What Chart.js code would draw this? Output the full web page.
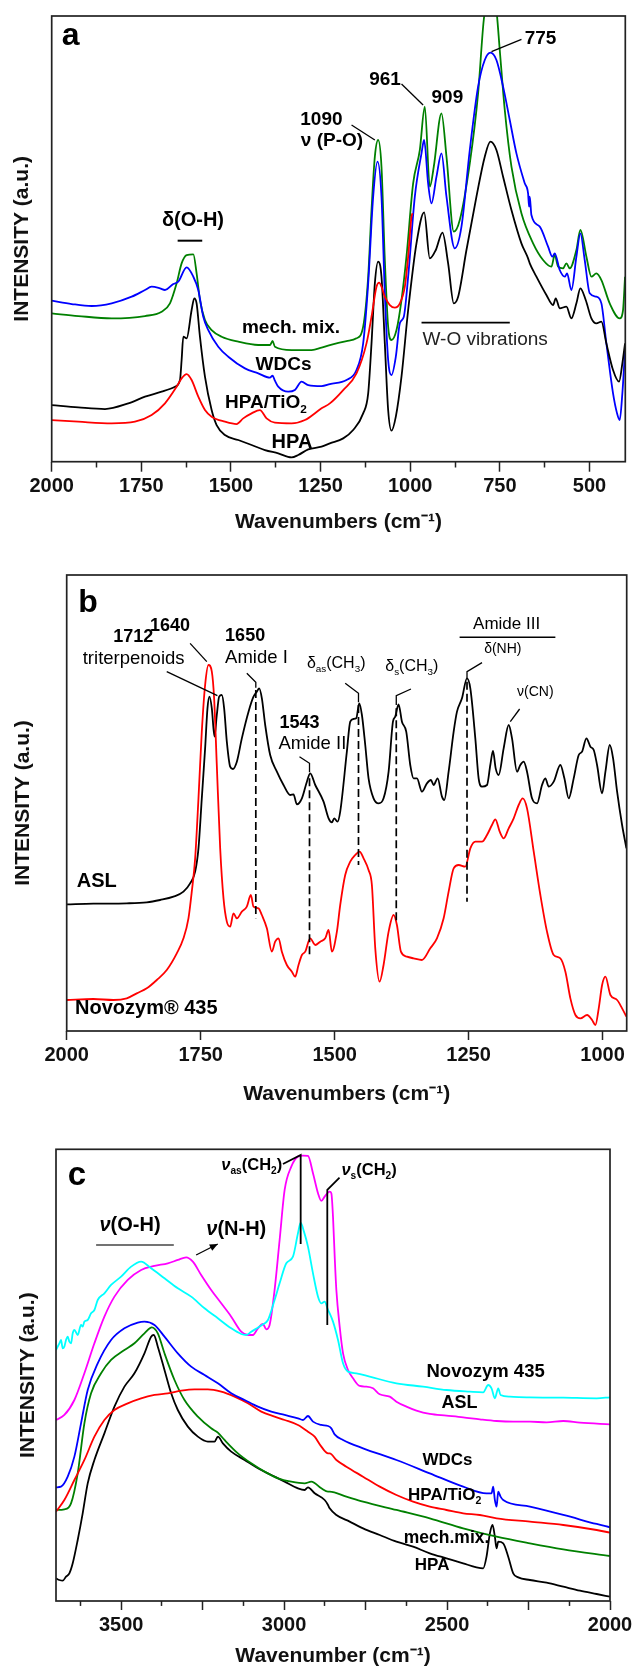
<!DOCTYPE html>
<html><head><meta charset="utf-8">
<script src="https://cdn.jsdelivr.net/npm/chart.js@4.4.1/dist/chart.umd.min.js"></script>
<style>
html,body{margin:0;padding:0;background:#fff;}
#wrap{position:relative;width:635px;height:1667px;overflow:hidden;}
canvas{position:absolute;left:0;}
</style></head><body>
<div id="wrap">
<canvas id="ca" width="635" height="535" style="top:0px;width:635px;height:535px"></canvas>
<canvas id="cb" width="635" height="572" style="top:535px;width:635px;height:572px"></canvas>
<canvas id="cc" width="635" height="560" style="top:1107px;width:635px;height:560px"></canvas>
</div>
<script>
// ---------- Panel a : [wavenumber, intensity (a.u.)] ----------
const A_HPA = [[2000,170],[1925.7,163],[1851.3,158],[1786.3,175],[1739.8,195],[1693.3,210],[1656.2,225],[1642.2,245],[1637.6,305],[1632.9,375],[1623.6,370],[1609.7,455],[1602.3,490],[1595.8,475],[1586.5,375],[1572.5,255],[1553.9,155],[1540,110],[1516.8,80],[1479.6,65],[1442.4,50],[1405.2,35],[1368.1,25],[1330.9,13],[1312.3,20],[1284.4,37],[1247.3,45],[1224.1,55],[1186.9,70],[1159.1,95],[1131.2,145],[1117.2,205],[1107.9,355],[1098.6,535],[1089.4,600],[1080.1,555],[1070.8,355],[1061.5,155],[1052.2,93],[1040.1,135],[1024.3,255],[1005.7,455],[982.5,655],[961.1,748],[945.3,610],[928.6,635],[910,687],[894.2,595],[878.4,475],[866.3,495],[843.1,635],[815.2,795],[792,915],[776.2,960],[759.5,935],[740.9,855],[717.6,755],[689.8,655],[671.2,610],[666.5,595],[647.9,555],[620.1,500],[601.5,470],[594,490],[582.9,460],[564.3,465],[550.4,430],[536.4,475],[525.3,520],[510.4,485],[494.6,430],[480.7,415],[466.7,420],[452.8,355],[434.2,275],[417.5,240],[408.2,295],[400.7,355]];
const A_MECH = [[2000,445],[1925.7,437],[1832.7,430],[1739.8,437],[1693.3,450],[1670.1,475],[1651.5,535],[1637.6,595],[1623.6,620],[1605,622],[1595.8,565],[1586.5,485],[1572.5,425],[1553.9,395],[1526.1,375],[1479.6,360],[1423.8,350],[1391.3,350],[1383.9,362],[1377.4,345],[1330.9,335],[1275.1,335],[1247.3,342],[1224.1,350],[1177.6,362],[1149.8,370],[1131.2,405],[1117.2,555],[1107.9,755],[1098.6,915],[1089.4,965],[1080.1,885],[1070.8,605],[1061.5,405],[1052.2,365],[1038.2,395],[1024.3,485],[1010.4,615],[991.8,835],[973.2,935],[959.3,1065],[945.3,825],[934.2,885],[912.8,1045],[898.8,915],[878.4,690],[861.7,725],[833.8,895],[810.6,1105],[794.8,1325],[776.2,1435],[759.5,1355],[750.2,1235],[736.2,1055],[717.6,885],[689.8,745],[657.2,655],[629.4,605],[606.1,585],[596.8,620],[587.5,585],[573.6,580],[564.3,595],[555,580],[536.4,635],[525.3,695],[508.5,615],[494.6,555],[480.7,565],[466.7,545],[443.5,475],[415.6,430],[406.3,455],[400.7,555]];
const A_WDC = [[2000,483],[1944.2,473],[1888.5,467],[1832.7,475],[1776.9,495],[1739.8,515],[1721.2,525],[1698,520],[1684,515],[1660.8,533],[1646.9,540],[1623.6,583],[1605,555],[1591.1,515],[1577.2,435],[1563.2,395],[1535.4,345],[1507.5,315],[1461,280],[1423.8,265],[1391.3,252],[1383.9,258],[1377.4,243],[1368.1,225],[1340.2,210],[1321.6,215],[1303,240],[1284.4,230],[1247.3,227],[1224.1,233],[1177.6,245],[1149.8,275],[1131.2,355],[1117.2,535],[1103.3,795],[1091.2,900],[1080.1,795],[1070.8,505],[1061.5,305],[1052.2,260],[1040.1,315],[1028.9,415],[1017.8,435],[1005.7,555],[987.1,795],[968.5,925],[961.1,965],[950,835],[940.7,775],[926.7,855],[912.8,925],[898.8,795],[875.6,640],[857,705],[833.8,935],[810.6,1125],[792,1205],[776.2,1227],[759.5,1205],[740.9,1125],[722.3,1025],[703.7,925],[680.5,835],[671.2,805],[668.4,765],[666.5,795],[661.9,740],[638.6,705],[615.4,645],[603.3,615],[596.8,625],[582.9,575],[568.9,555],[562.4,565],[550.4,515],[536.4,615],[525.3,685],[513.2,605],[499.2,505],[480.7,495],[466.7,475],[452.8,355],[434.2,205],[423,145],[415.6,125],[408.2,205],[400.7,335]];
const A_TIO2 = [[2000,125],[1925.7,120],[1832.7,115],[1767.7,120],[1721.2,140],[1684,175],[1651.5,225],[1637.6,250],[1623.6,263],[1609.7,245],[1591.1,195],[1572.5,155],[1553.9,135],[1516.8,120],[1484.3,113],[1465.7,130],[1442.4,145],[1419.2,155],[1400.6,130],[1377.4,117],[1330.9,115],[1293.7,125],[1247.3,160],[1224.1,175],[1186.9,215],[1149.8,265],[1121.9,355],[1107.9,435],[1094,525],[1086.6,537],[1080.1,525],[1070.8,495],[1056.8,470],[1042.9,462],[1028.9,475],[1015,525],[1005.7,615],[996.4,735],[993.6,745]];
const A_TICKS = [500,625,750,875,1000,1125,1250,1375,1500,1625,1750,1875,2000];
const A_LABELS = [500,750,1000,1250,1500,1750,2000];

// ---------- Panel b ----------
const B_ASL = [[2000,380],[1950.2,382],[1887.9,383],[1850.6,386],[1825.7,393],[1800.8,403],[1782.1,418],[1769.7,443],[1760.3,478],[1754.1,548],[1747.9,698],[1741.7,848],[1737.3,968],[1733.6,1003],[1729.2,968],[1724.2,883],[1719.9,948],[1715.5,1003],[1710.5,1008],[1706.2,968],[1701.2,868],[1695,793],[1690,786],[1682.5,808],[1673.2,878],[1660.7,958],[1651.4,1003],[1645.2,1018],[1640.8,1028],[1635.8,998],[1629.6,918],[1620.3,828],[1607.8,778],[1595.4,738],[1582.9,708],[1576.7,710],[1570.5,680],[1561.1,698],[1551.8,748],[1545.6,773],[1536.2,738],[1520.7,688],[1511.3,638],[1505.1,626],[1500.8,638],[1494.6,628],[1489.6,658],[1477.2,838],[1470.9,928],[1464.7,936],[1459.7,938],[1454.1,983],[1449.1,948],[1442.9,858],[1436.7,758],[1427.4,698],[1418,683],[1408.7,698],[1399.3,778],[1391.2,928],[1386.9,943],[1380.7,980],[1374.4,928],[1366.4,898],[1358.9,798],[1352.7,758],[1346.4,758],[1337.1,718],[1327.8,743],[1320.3,753],[1315.3,738],[1307.8,758],[1299.7,703],[1295.4,693],[1287.3,778],[1277.9,898],[1271.7,958],[1262.4,998],[1253.1,1058],[1246.8,1028],[1237.5,878],[1231.3,758],[1225,733],[1215.7,738],[1209.5,798],[1204.5,840],[1199.5,788],[1193.9,768],[1184.6,848],[1175.2,918],[1169,878],[1159.7,778],[1153.5,798],[1147.2,808],[1141,778],[1131.7,698],[1122.3,683],[1113,738],[1106.8,758],[1100.5,733],[1091.2,748],[1078.8,798],[1071.3,758],[1063.2,698],[1053.9,758],[1044.5,828],[1038.3,838],[1030.2,878],[1022.7,853],[1016.5,843],[1010.3,798],[1000.9,713],[994.7,778],[986.6,858],[980.4,818],[972.9,718],[963.6,618],[955.5,548]];
const B_NOVOZYM = [[2000,93],[1950.2,96],[1912.9,93],[1887.9,98],[1869.3,113],[1850.6,128],[1831.9,153],[1813.3,183],[1794.6,233],[1782.1,278],[1772.8,338],[1766.6,418],[1760.3,518],[1754.1,698],[1747.9,898],[1741.7,1038],[1735.4,1098],[1729.2,1078],[1724.9,998],[1719.9,798],[1713.6,548],[1707.4,398],[1701.2,328],[1695,313],[1688.8,353],[1682.5,338],[1673.2,358],[1663.9,373],[1656.4,408],[1651.4,373],[1642.1,368],[1635.8,348],[1626.5,308],[1617.2,238],[1611,268],[1604.7,278],[1598.5,238],[1589.2,198],[1579.8,178],[1573.6,163],[1567.4,198],[1561.1,228],[1554.9,238],[1545.6,278],[1536.2,258],[1526.9,268],[1517.6,278],[1511.3,303],[1505.1,238],[1495.8,298],[1489.6,378],[1480.3,468],[1470.9,508],[1461.6,528],[1453.5,538],[1446,518],[1436.7,483],[1430.5,438],[1424.2,248],[1416.1,148],[1408.7,198],[1399.3,298],[1390,348],[1383.8,318],[1376.3,238],[1365.1,223],[1352.7,218],[1337.1,213],[1321.5,248],[1309.1,278],[1296.6,338],[1287.3,418],[1277.9,488],[1268.6,498],[1256.2,493],[1246.8,548],[1237.5,568],[1225,568],[1215.7,588],[1206.4,618],[1200.1,635],[1192,598],[1184.6,578],[1175.2,608],[1165.9,638],[1156.6,678],[1149.1,698],[1141,668],[1128.5,538],[1116.1,408],[1103.7,298],[1091.2,228],[1078.8,218],[1069.4,178],[1060.1,98],[1050.7,48],[1041.4,38],[1028.9,48],[1019.6,33],[1013.4,18],[1007.2,68],[1000.9,138],[994.7,163],[985.4,108],[972.9,93],[963.6,68],[955.5,43]];
const B_TICKS = [1000,1250,1500,1750,2000];
const B_LABELS = [1000,1250,1500,1750,2000];

// ---------- Panel c ----------
const C_NOVOZYM = [[3700,753],[3689.7,773],[3684.6,783],[3679.5,758],[3674.4,763],[3669.2,783],[3664.1,793],[3659,778],[3653.9,773],[3648.7,803],[3643.6,813],[3633.4,798],[3623.2,828],[3618.1,823],[3612.9,838],[3602.7,843],[3592.4,863],[3582.2,873],[3572,903],[3551.5,923],[3531,948],[3500.3,973],[3469.5,1003],[3438.8,1018],[3408.1,998],[3367.1,968],[3326.2,938],[3285.2,913],[3244.2,878],[3203.3,848],[3162.3,818],[3131.6,801],[3116.2,798],[3100.9,808],[3080.4,820],[3065,830],[3049.7,843],[3029.2,903],[3013.8,953],[2993.3,1013],[2972.9,1033],[2957.5,1103],[2949.3,1135],[2939.1,1108],[2926.8,1063],[2911.4,983],[2896,913],[2885.8,893],[2875.6,898],[2865.3,873],[2860.2,863],[2850,838],[2834.6,783],[2819.2,713],[2803.9,688],[2778.3,683],[2737.3,673],[2655.4,653],[2573.5,643],[2501.8,633],[2430.1,628],[2389.1,626],[2373.7,648],[2363.5,638],[2353.3,608],[2343,638],[2335.9,618],[2307.2,613],[2245.7,611],[2143.3,610],[2040.9,608],[2000,611]];
const C_ASL = [[3700,543],[3674.4,558],[3643.6,603],[3612.9,683],[3582.2,773],[3551.5,853],[3520.7,913],[3479.8,963],[3438.8,993],[3397.8,1005],[3356.9,1013],[3326.2,1023],[3300.6,1031],[3280.1,1018],[3254.5,978],[3223.8,933],[3193,893],[3162.3,853],[3131.6,808],[3111.1,798],[3095.7,798],[3080.4,818],[3065,831],[3054.8,815],[3044.5,828],[3029.2,933],[3013.8,1083],[2998.4,1233],[2978,1303],[2957.5,1333],[2942.1,1336],[2926.8,1335],[2911.4,1283],[2896,1223],[2885.8,1200],[2875.6,1213],[2860.2,1228],[2855.1,1223],[2850,1153],[2844.8,1033],[2839.7,933],[2829.5,823],[2819.2,743],[2803.9,693],[2788.5,668],[2768,645],[2747.5,643],[2727.1,638],[2706.6,620],[2675.9,613],[2655.4,598],[2624.7,583],[2593.9,571],[2553,561],[2501.8,556],[2450.6,551],[2399.4,545],[2348.1,540],[2297,538],[2245.7,538],[2194.5,536],[2143.3,540],[2092.1,535],[2000,530]];
const C_WDC = [[3700,341],[3684.6,343],[3664.1,373],[3643.6,433],[3623.2,533],[3602.7,633],[3572,713],[3531,783],[3490,818],[3449.1,835],[3428.6,838],[3397.8,828],[3367.1,793],[3326.2,743],[3285.2,703],[3244.2,678],[3203.3,653],[3162.3,623],[3121.3,603],[3080.4,583],[3039.4,568],[2998.4,558],[2957.5,548],[2942.1,543],[2926.8,555],[2911.4,538],[2885.8,528],[2865.3,525],[2855.1,518],[2845,500],[2819.2,483],[2757.8,458],[2655.4,423],[2553,383],[2450.6,343],[2378.9,323],[2363.5,323],[2358.4,343],[2353.3,303],[2348.1,283],[2343,328],[2335.9,313],[2327.7,303],[2245.7,283],[2143.3,258],[2040.9,231],[2000,221]];
const C_TIO2 = [[3700,268],[3674.4,303],[3643.6,363],[3612.9,423],[3582.2,493],[3551.5,543],[3520.7,573],[3479.8,593],[3438.8,608],[3397.8,618],[3356.9,623],[3315.9,631],[3275,635],[3234,635],[3193,628],[3152.1,613],[3111.1,593],[3070.1,568],[3029.2,553],[2998.4,543],[2957.5,528],[2926.8,508],[2906.3,493],[2885.8,463],[2865.3,443],[2860.2,443],[2839.7,423],[2809,403],[2757.8,373],[2706.6,343],[2655.4,318],[2604.2,298],[2553,283],[2501.8,273],[2450.6,263],[2399.4,258],[2348.1,248],[2245.7,238],[2143.3,228],[2040.9,213],[2000,205]];
const C_MECH = [[3700,273],[3674.4,275],[3653.9,293],[3633.4,383],[3612.9,533],[3592.4,623],[3561.7,683],[3531,723],[3490,753],[3459.3,773],[3428.6,803],[3406,821],[3387.6,803],[3367.1,743],[3336.4,663],[3305.7,603],[3264.7,553],[3223.8,518],[3203.3,505],[3182.8,483],[3141.8,443],[3100.9,413],[3059.9,388],[3018.9,368],[2978,358],[2937,353],[2916.5,358],[2885.8,338],[2865.3,328],[2860.2,328],[2809,313],[2757.8,298],[2655.4,273],[2553,248],[2450.6,218],[2348.1,193],[2245.7,173],[2143.3,155],[2000,135]];
const C_HPA = [[3700,68],[3689.7,63],[3679.5,61],[3669.2,73],[3659,83],[3648.7,113],[3633.4,183],[3618.1,263],[3602.7,353],[3582.2,423],[3551.5,503],[3520.7,583],[3490,643],[3459.3,683],[3428.6,743],[3408.1,793],[3399.9,798],[3387.6,763],[3367.1,693],[3346.6,623],[3326.2,573],[3295.4,523],[3264.7,493],[3234,478],[3213.5,478],[3203.3,493],[3187.9,473],[3162.3,448],[3121.3,423],[3080.4,398],[3039.4,378],[2998.4,358],[2957.5,338],[2937,333],[2926.8,341],[2906.3,323],[2875.6,303],[2865.3,288],[2860.2,278],[2839.7,258],[2798.8,238],[2757.8,218],[2706.6,198],[2655.4,178],[2604.2,163],[2553,143],[2501.8,128],[2450.6,113],[2409.6,101],[2389.1,98],[2378.9,133],[2368.6,203],[2360.4,228],[2353.3,193],[2348.1,158],[2343,178],[2327.7,173],[2312.3,133],[2297,83],[2281.6,71],[2245.7,63],[2194.5,55],[2143.3,43],[2092.1,31],[2040.9,21],[2000,13]];
const C_TICKS = [2000,2125,2250,2375,2500,2625,2750,2875,3000,3125,3250,3375,3500,3625];
const C_LABELS = [2000,2500,3000,3500];

// ---------- drawing ----------
const FONT = '"Liberation Sans", Arial, Helvetica, sans-serif';
Chart.defaults.font.family = FONT;
const COL = {black:'#000000', green:'#008000', blue:'#0000ff', red:'#ff0000', cyan:'#00ffff', magenta:'#ff00ff'};

function ds(label, pts, color) {
  return {label, data: pts.map(p => ({x: p[0], y: p[1]})), borderColor: color, backgroundColor: color,
    borderWidth: 1.8, pointRadius: 0, fill: false, cubicInterpolationMode: 'monotone'};
}

function drawRich(ctx, n, px, py) {
  const size = n.size, weight = n.bold ? 'bold ' : '';
  const fontFor = s => {
    const k = s[1] || '';
    const sz = (k === 'sub' || k === 'sup') ? size * 0.62 : size;
    const it = k === 'it' ? 'italic ' : '';
    return it + weight + sz.toFixed(1) + 'px ' + FONT;
  };
  const widths = []; let total = 0;
  for (const s of n.segs) { ctx.font = fontFor(s); const w = ctx.measureText(s[0]).width; widths.push(w); total += w; }
  let cx = n.align === 'center' ? px - total / 2 : px;
  ctx.fillStyle = n.color || '#000'; ctx.textBaseline = 'alphabetic'; ctx.textAlign = 'left';
  n.segs.forEach((s, i) => {
    ctx.font = fontFor(s);
    const k = s[1] || '';
    const dy = k === 'sub' ? size * 0.24 : (k === 'sup' ? -size * 0.42 : 0);
    ctx.fillText(s[0], cx, py + dy);
    cx += widths[i];
  });
}

function annotPlugin(notes, lines) {
  return {
    id: 'annot',
    afterDraw(chart) {
      const {ctx, chartArea: ca, scales: {x, y}} = chart;
      const P = p => [x.getPixelForValue(p[0]), y.getPixelForValue(p[1])];
      ctx.save();
      ctx.strokeStyle = '#222'; ctx.lineWidth = 1.7; ctx.setLineDash([]);
      ctx.strokeRect(ca.left, ca.top, ca.right - ca.left, ca.bottom - ca.top);
      for (const ln of lines) {
        ctx.beginPath(); ctx.setLineDash(ln.dash || []); ctx.lineWidth = ln.w || 1.2;
        ctx.strokeStyle = ln.c || '#000';
        ln.pts.forEach((p, i) => { const q = P(p); i ? ctx.lineTo(q[0], q[1]) : ctx.moveTo(q[0], q[1]); });
        ctx.stroke();
        if (ln.arrow) {
          const a = P(ln.pts[ln.pts.length - 2]), b = P(ln.pts[ln.pts.length - 1]);
          const ang = Math.atan2(b[1] - a[1], b[0] - a[0]), L = 8, W = 3.5;
          ctx.setLineDash([]); ctx.beginPath(); ctx.moveTo(b[0], b[1]);
          ctx.lineTo(b[0] - L * Math.cos(ang) + W * Math.sin(ang), b[1] - L * Math.sin(ang) - W * Math.cos(ang));
          ctx.lineTo(b[0] - L * Math.cos(ang) - W * Math.sin(ang), b[1] - L * Math.sin(ang) + W * Math.cos(ang));
          ctx.closePath(); ctx.fillStyle = ln.c || '#000'; ctx.fill();
        }
      }
      ctx.setLineDash([]);
      for (const n of notes) { const q = P([n.x, n.y]); drawRich(ctx, n, q[0], q[1]); }
      ctx.restore();
    }
  };
}

function makeChart(id, c) {
  const isMinor = v => (v % 250) !== 0;
  return new Chart(document.getElementById(id), {
    type: 'line',
    data: {datasets: c.datasets},
    plugins: [annotPlugin(c.notes, c.lines)],
    options: {
      responsive: false, maintainAspectRatio: false, animation: false, devicePixelRatio: 1,
      layout: {autoPadding: false, padding: {top: c.padTop, right: c.padRight, left: 0, bottom: 0}},
      plugins: {legend: {display: false}, tooltip: {enabled: false}},
      scales: {
        x: {
          type: 'linear', reverse: true, min: c.xmin, max: c.xmax,
          afterBuildTicks: s => { s.ticks = c.ticks.map(v => ({value: v})); },
          afterFit: s => { s.height = c.xHeight; s.paddingLeft = 0; s.paddingRight = 0; },
          ticks: {autoSkip: false, maxRotation: 0, minRotation: 0, padding: c.tickPad, color: '#111',
            font: {family: FONT, size: 20, weight: 'bold'},
            callback: v => c.labels.includes(v) ? String(v) : ''},
          grid: {display: true, drawOnChartArea: false, drawTicks: true, tickLength: c.tickLen,
            tickWidth: 1.5, tickColor: '#222',
            tickBorderDash: ctx => (ctx.tick && isMinor(ctx.tick.value)) ? [c.tickLen * 0.55, 60] : []},
          border: {display: false},
          title: {display: true, text: c.xTitle, color: '#111', font: {family: FONT, size: 21, weight: 'bold'},
            padding: {top: 0, bottom: c.xTitlePad}}
        },
        y: {
          type: 'linear', min: 0, max: c.ymax,
          afterFit: s => { s.width = c.yWidth; s.paddingTop = 0; s.paddingBottom = 0; },
          ticks: {display: false}, grid: {display: false}, border: {display: false},
          title: {display: true, text: 'INTENSITY (a.u.)', color: '#111', font: {family: FONT, size: 21, weight: 'bold'},
            padding: {top: c.yTitlePad, bottom: 0}}
        }
      }
    }
  });
}

// ---- panel a ----
makeChart('ca', {
  datasets: [ds('HPA/TiO2', A_TIO2, COL.red), ds('HPA', A_HPA, COL.black), ds('WDCs', A_WDC, COL.blue), ds('mech. mix.', A_MECH, COL.green)],
  xmin: 400, xmax: 2000, ymax: 1337, ticks: A_TICKS, labels: A_LABELS, tickLen: 10, tickPad: 3,
  padTop: 16, padRight: 9.7, yWidth: 51.7, xHeight: 73.3, xTitlePad: 0.4, yTitlePad: 9.8,
  xTitle: 'Wavenumbers (cm\u207B\u00B9)',
  notes: [
    {x: 1972, y: 1250, segs: [['a']], size: 32, bold: true},
    {x: 1606, y: 707, segs: [['δ(O-H)']], size: 20, bold: true, align: 'center'},
    {x: 1469.4, y: 385, segs: [['mech. mix.']], size: 19, bold: true},
    {x: 1431.2, y: 275, segs: [['WDCs']], size: 19, bold: true},
    {x: 1516.8, y: 160, segs: [['HPA/TiO'], ['2', 'sub']], size: 19, bold: true},
    {x: 1386.6, y: 40, segs: [['HPA']], size: 20, bold: true},
    {x: 1306.6, y: 1010, segs: [['1090']], size: 19, bold: true},
    {x: 1305, y: 948.5, segs: [['ν (P-O)']], size: 19, bold: true},
    {x: 1114.5, y: 1130, segs: [['961']], size: 19, bold: true},
    {x: 940.6, y: 1077, segs: [['909']], size: 19, bold: true},
    {x: 680.5, y: 1253, segs: [['775']], size: 19, bold: true},
    {x: 965.7, y: 350, segs: [['W-O vibrations']], size: 19, bold: false, color: '#222'}
  ],
  lines: [
    {pts: [[1648.7, 663], [1580.1, 663]], w: 2},
    {pts: [[1163.6, 1010], [1098.6, 965]], w: 1.3},
    {pts: [[1024.2, 1133], [964, 1070]], w: 1.3},
    {pts: [[689.6, 1267], [773.3, 1230]], w: 1.3},
    {pts: [[968.4, 417], [722.2, 417]], w: 1.8}
  ]
});

// ---- panel b ----
makeChart('cb', {
  datasets: [ds('Novozym® 435', B_NOVOZYM, COL.red), ds('ASL', B_ASL, COL.black)],
  xmin: 955, xmax: 2000, ymax: 1368, ticks: B_TICKS, labels: B_LABELS, tickLen: 9, tickPad: 3.3,
  padTop: 40, padRight: 8.3, yWidth: 66.7, xHeight: 76, xTitlePad: 0, yTitlePad: 10.4,
  xTitle: 'Wavenumbers (cm\u207B\u00B9)',
  notes: [
    {x: 1978.3, y: 1258, segs: [['b']], size: 32, bold: true},
    {x: 1913, y: 1166, segs: [['1712']], size: 18, bold: true},
    {x: 1844.4, y: 1201, segs: [['1640']], size: 18, bold: true},
    {x: 1970.1, y: 1100, segs: [['triterpenoids']], size: 18.5},
    {x: 1704.4, y: 1170, segs: [['1650']], size: 18, bold: true},
    {x: 1704.4, y: 1103, segs: [['Amide I']], size: 18.5},
    {x: 1603, y: 908, segs: [['1543']], size: 18, bold: true},
    {x: 1604.9, y: 846, segs: [['Amide II']], size: 18.5},
    {x: 1551.8, y: 1088, segs: [['δ'], ['as', 'sub'], ['(CH'], ['3', 'sub'], [')']], size: 16},
    {x: 1405.6, y: 1080, segs: [['δ'], ['s', 'sub'], ['(CH'], ['3', 'sub'], [')']], size: 16},
    {x: 1179.1, y: 1206, segs: [['Amide III']], size: 17, align: 'center'},
    {x: 1186.2, y: 1133, segs: [['δ(NH)']], size: 14, align: 'center'},
    {x: 1159.7, y: 1006, segs: [['ν(CN)']], size: 14},
    {x: 1981.3, y: 433, segs: [['ASL']], size: 20, bold: true},
    {x: 1984.5, y: 50, segs: [['Novozym® 435']], size: 20, bold: true}
  ],
  lines: [
    {pts: [[1769.7, 1163], [1738.6, 1108]], w: 1.3},
    {pts: [[1813.3, 1078], [1718.8, 1006]], w: 1.3},
    {pts: [[1663.9, 1073], [1647.1, 1046], [1647.1, 1030]], w: 1.3},
    {pts: [[1565.6, 823], [1546.9, 803], [1546.9, 776]], w: 1.3},
    {pts: [[1480.3, 1043], [1455.5, 1013], [1455.5, 986]], w: 1.3},
    {pts: [[1357.6, 1026], [1385, 1006], [1385, 978]], w: 1.3},
    {pts: [[1266.8, 1181], [1088.1, 1181]], w: 1.5},
    {pts: [[1225, 1105], [1253, 1078], [1253, 1058]], w: 1.3},
    {pts: [[1154.8, 966], [1172.2, 928]], w: 1.3},
    {pts: [[1647.1, 1023], [1647.1, 338]], w: 1.7, dash: [8, 4]},
    {pts: [[1546.9, 758], [1546.9, 223]], w: 1.7, dash: [8, 4]},
    {pts: [[1455.5, 978], [1455.5, 498]], w: 1.7, dash: [8, 4]},
    {pts: [[1385, 968], [1385, 323]], w: 1.7, dash: [8, 4]},
    {pts: [[1253, 1048], [1253, 388]], w: 1.7, dash: [8, 4]}
  ]
});

// ---- panel c ----
makeChart('cc', {
  datasets: [ds('Novozym 435', C_NOVOZYM, COL.cyan), ds('ASL', C_ASL, COL.magenta), ds('WDCs', C_WDC, COL.blue),
             ds('HPA/TiO2', C_TIO2, COL.red), ds('mech.mix.', C_MECH, COL.green), ds('HPA', C_HPA, COL.black)],
  xmin: 2000, xmax: 3700, ymax: 1355, ticks: C_TICKS, labels: C_LABELS, tickLen: 9, tickPad: 3,
  padTop: 42.3, padRight: 25, yWidth: 56, xHeight: 66, xTitlePad: -2, yTitlePad: 15.8,
  xTitle: 'Wavenumber (cm\u207B\u00B9)',
  notes: [
    {x: 3664.1, y: 1248, segs: [['c']], size: 33, bold: true},
    {x: 3192.9, y: 1293, segs: [['ν', 'it'], ['as', 'sub'], ['(CH'], ['2', 'sub'], [')']], size: 16.5, bold: true},
    {x: 2824.2, y: 1278, segs: [['ν', 'it'], ['s', 'sub'], ['(CH'], ['2', 'sub'], [')']], size: 16.5, bold: true},
    {x: 3566.7, y: 1111, segs: [['ν', 'it'], ['(O-H)']], size: 20, bold: true},
    {x: 3238.9, y: 1098, segs: [['ν', 'it'], ['(N-H)']], size: 20, bold: true},
    {x: 2563.1, y: 673, segs: [['Novozym 435']], size: 18.5, bold: true},
    {x: 2517, y: 578, segs: [['ASL']], size: 18, bold: true},
    {x: 2575.4, y: 408, segs: [['WDCs']], size: 17, bold: true},
    {x: 2619.6, y: 303, segs: [['HPA/TiO'], ['2', 'sub']], size: 17, bold: true},
    {x: 2632.8, y: 173, segs: [['mech.mix.']], size: 17.5, bold: true},
    {x: 2599, y: 93, segs: [['HPA']], size: 17, bold: true}
  ],
  lines: [
    {pts: [[3003.5, 1311], [2949.2, 1338], [2949.2, 1071]], w: 1.8},
    {pts: [[2830, 1270], [2867.5, 1233], [2867.5, 828]], w: 1.8},
    {pts: [[3576.9, 1068], [3338.5, 1068]], w: 1.5, c: '#444'},
    {pts: [[3270, 1038], [3203.6, 1071]], w: 1.3, arrow: true}
  ]
});
</script>
</body></html>
